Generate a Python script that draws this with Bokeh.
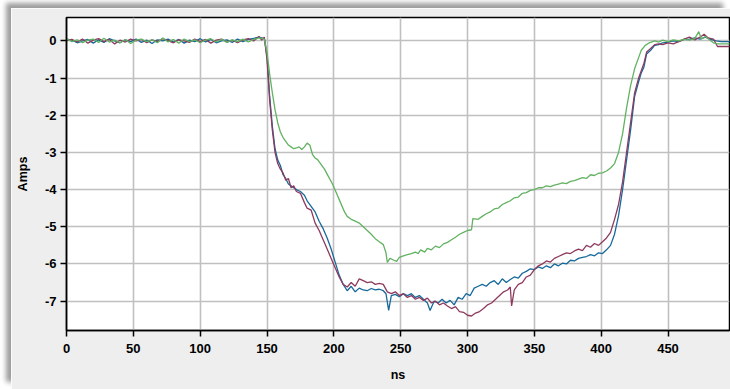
from bokeh.plotting import figure
from bokeh.models import Range1d, FixedTicker, CustomJSTickFormatter
from bokeh.embed import file_html
from bokeh.resources import INLINE

x_ticks = [0, 50, 100, 150, 200, 250, 300, 350, 400, 450]
y_ticks = [0, -1, -2, -3, -4, -5, -6, -7]

blue_t = [0, 4, 8, 12, 16, 20, 24, 28, 32, 36, 40, 44, 48, 52, 56, 60, 64, 68, 72, 76, 80, 84, 88, 92, 96, 100,
          104, 108, 112, 116, 120, 124, 128, 132, 136, 140, 144, 148,
          150, 152, 154, 156, 158, 160, 162, 164, 166, 168, 170, 172, 175, 178, 180, 183, 186, 189, 192, 195, 198,
          201, 204, 207, 210, 213, 216, 219, 222, 225, 228, 231, 234, 237, 239, 241, 243, 246, 249, 252, 255, 258,
          261, 264, 267, 270, 272, 275, 278, 281, 284, 287, 290, 293, 296, 299, 302, 305, 308, 311, 314, 317, 320,
          323, 326, 329, 332, 335, 338, 341, 344, 347, 350, 353, 356, 359, 362, 365, 368, 371, 374, 377, 380, 383,
          386, 389, 392, 395, 398, 401, 404, 407, 410, 413, 416, 419, 422, 425, 428, 430, 432, 434, 437, 440, 443,
          446, 450, 454, 458, 462, 466, 470, 474, 478, 482, 486, 490, 497]
blue_a = [0.05, 0.02, -0.05, 0.0, 0.04, -0.06, 0.03, -0.04, 0.06, 0.0, -0.05, 0.03, -0.02, 0.05, -0.04, 0.02, -0.07,
          0.03, 0.0, 0.05, -0.03, 0.04, -0.06, 0.02, -0.02, 0.06, -0.03, 0.04, -0.05, 0.0, 0.03, -0.04, 0.05, -0.02,
          0.04, 0.07, 0.1, 0.06,
          -0.4, -1.5, -2.3, -2.9, -3.2, -3.35, -3.6, -3.7, -3.85, -3.9, -3.95, -4.0, -4.05, -4.15, -4.3, -4.45, -4.6,
          -4.85, -5.05, -5.3, -5.6, -5.95, -6.3, -6.55, -6.72, -6.6, -6.75, -6.65, -6.7, -6.72, -6.66, -6.7, -6.68,
          -6.72, -6.8, -7.25, -6.85, -6.82, -6.88, -6.8, -6.85, -6.8, -6.9, -6.85, -6.95, -7.05, -7.25, -7.0, -7.05,
          -6.95, -7.05, -6.98, -7.1, -6.9, -6.95, -6.8, -6.85, -6.65, -6.6, -6.55, -6.6, -6.5, -6.45, -6.55, -6.4,
          -6.5, -6.42, -6.35, -6.38, -6.25, -6.2, -6.13, -6.15, -6.08, -6.12, -6.05, -6.1, -6.0, -6.05, -5.98, -6.0,
          -5.9, -5.92, -5.85, -5.82, -5.8, -5.75, -5.78, -5.7, -5.72, -5.62, -5.5, -5.2, -4.7, -4.0, -3.2, -2.4,
          -1.5, -1.1, -0.86, -0.7, -0.35, -0.25, -0.12, -0.1, -0.05, -0.03, 0.0, -0.02, 0.04, 0.05, 0.08, 0.05, 0.1,
          0.04, 0.0, -0.02, -0.02]

maroon_t = [0, 4, 8, 12, 16, 20, 24, 28, 32, 36, 40, 44, 48, 52, 56, 60, 64, 68, 72, 76, 80, 84, 88, 92, 96, 100,
            104, 108, 112, 116, 120, 124, 128, 132, 136, 140, 144, 146, 148,
            150, 152, 154, 156, 158, 160, 162, 164, 166, 168, 170, 172, 175, 178, 180, 183, 186, 189, 192, 195, 198,
            201, 204, 207, 210, 213, 216, 219, 222, 225, 228, 231, 234, 237, 240, 243, 246, 249, 252, 255, 258, 261,
            264, 267, 270, 273, 276, 279, 282, 285, 288, 291, 294, 297, 300, 303, 306, 309, 312, 315, 318, 321, 324,
            327, 330, 332, 333, 335, 338, 341, 344, 347, 350, 353, 356, 359, 362, 365, 368, 371, 374, 377, 380, 383,
            386, 389, 392, 395, 398, 401, 404, 407, 410, 413, 416, 419, 422, 425, 428, 430, 432, 434, 437, 440, 443,
            446, 450, 454, 458, 462, 466, 470, 474, 477, 480, 484, 487, 497]
maroon_a = [0.0, 0.04, -0.03, 0.05, -0.06, 0.02, 0.06, -0.02, 0.04, -0.08, 0.02, -0.03, 0.05, 0.0, 0.04, -0.05, 0.03,
            -0.02, 0.06, 0.01, -0.05, 0.03, 0.0, -0.04, 0.05, -0.02, 0.04, -0.06, 0.02, 0.05, -0.03, 0.02, -0.05,
            0.03, 0.06, 0.0, 0.12, 0.02, 0.1,
            -0.5, -1.6, -2.4, -3.0, -3.3, -3.45, -3.55, -3.75, -3.7, -3.95, -3.9, -4.05, -4.1, -4.35, -4.5, -4.55,
            -4.9, -5.1, -5.35, -5.6, -5.85, -6.1, -6.35, -6.55, -6.62, -6.5, -6.6, -6.4, -6.45, -6.5, -6.48, -6.55,
            -6.52, -6.55, -6.75, -6.8, -6.75, -6.85, -6.8, -6.9, -6.85, -6.95, -6.9, -6.98, -6.92, -7.05, -7.0, -7.1,
            -7.05, -7.13, -7.2, -7.15, -7.28, -7.3, -7.38, -7.4, -7.32, -7.28, -7.2, -7.1, -7.05, -6.95, -6.85,
            -6.75, -6.7, -6.62, -7.13, -6.7, -6.55, -6.5, -6.35, -6.3, -6.15, -6.05, -6.0, -5.92, -5.95, -5.85, -5.8,
            -5.75, -5.7, -5.72, -5.65, -5.6, -5.64, -5.5, -5.55, -5.45, -5.5, -5.4, -5.3, -5.15, -4.8, -4.4, -3.8,
            -3.0, -2.2, -1.4, -1.0, -0.8, -0.6, -0.3, -0.2, -0.1, -0.08, -0.1, -0.05, -0.08, -0.02, 0.05, 0.1, 0.03,
            0.1, 0.18, 0.08, 0.05, -0.15, -0.15]

green_t = [0, 4, 8, 12, 16, 20, 24, 28, 32, 36, 40, 44, 48, 52, 56, 60, 64, 68, 72, 76, 80, 84, 88, 92, 96, 100,
           104, 108, 112, 116, 120, 124, 128, 132, 136, 140, 144, 148,
           150, 152, 154, 156, 158, 160, 162, 164, 166, 168, 170, 172, 174, 176, 178, 180, 182, 184, 186, 188, 190,
           193, 196, 199, 202, 205, 208, 210, 213, 216, 219, 222, 225, 228, 231, 234, 237, 239, 240, 242, 245, 247,
           249, 252, 255, 258, 261, 263, 265, 268, 270, 273, 276, 279, 282, 285, 288, 291, 294, 297, 300, 303, 304,
           308, 311, 314, 317, 320, 323, 326, 329, 332, 335, 338, 341, 344, 347, 350, 353, 356, 359, 362, 365, 368,
           371, 374, 377, 380, 383, 386, 389, 392, 395, 398, 401, 404, 407, 410, 413, 416, 419, 422, 425, 428, 430,
           433, 436, 440, 443, 446, 450, 454, 458, 462, 466, 470, 473, 475, 478, 481, 484, 487, 497]
green_a = [0.06, -0.02, 0.03, -0.05, 0.02, 0.05, -0.04, 0.07, -0.03, 0.02, -0.05, 0.04, -0.07, 0.02, 0.05, -0.02,
           0.03, -0.05, 0.08, -0.03, 0.04, -0.06, 0.05, -0.02, 0.03, -0.05, 0.02, 0.06, -0.03, 0.04, -0.04, 0.03,
           -0.02, 0.05, -0.03, 0.04, 0.08, 0.05,
           -0.3, -0.9, -1.4, -1.85, -2.2, -2.45, -2.6, -2.7, -2.8, -2.85, -2.9, -2.88, -2.85, -2.92, -2.85, -2.75,
           -2.8, -3.05, -3.15, -3.2, -3.3, -3.45, -3.65, -3.85, -4.1, -4.35, -4.6, -4.72, -4.8, -4.85, -4.9, -5.0,
           -5.1, -5.2, -5.32, -5.4, -5.48, -5.7, -5.96, -5.85, -5.9, -5.93, -5.82, -5.78, -5.75, -5.72, -5.68, -5.72,
           -5.62, -5.68, -5.58, -5.62, -5.52, -5.56, -5.46, -5.42, -5.35, -5.28, -5.2, -5.15, -5.1, -5.08, -4.78,
           -4.8, -4.72, -4.65, -4.6, -4.52, -4.5, -4.4, -4.35, -4.3, -4.22, -4.2, -4.1, -4.08, -4.02, -4.0, -3.95,
           -3.95, -3.9, -3.92, -3.88, -3.85, -3.82, -3.84, -3.78, -3.76, -3.72, -3.68, -3.7, -3.6, -3.62, -3.56,
           -3.55, -3.5, -3.42, -3.3, -3.0, -2.5, -1.8, -1.2, -0.75, -0.45, -0.25, -0.12, -0.05, 0.0, -0.03, 0.02,
           -0.02, 0.03, 0.0, 0.04, 0.02, 0.06, 0.25, 0.05, 0.12, 0.03, -0.05, -0.08, -0.08]

FONT = "Liberation Sans"

p = figure(width=719, height=381, output_backend="svg", toolbar_location=None,
           x_range=Range1d(0, 496), y_range=Range1d(-7.79, 0.63),
           min_border_left=55, min_border_right=1, min_border_top=9, min_border_bottom=59)
p.margin = (8, 0, 0, 11)
p.styles = {"box-shadow": "-6px -6px 5px -1px #9c9c9c"}

p.background_fill_color = "white"
p.border_fill_color = "#eeeeee"
p.outline_line_color = "black"
p.outline_line_width = 1.5

for ax in (p.xaxis[0], p.yaxis[0]):
    ax.axis_line_color = "black"
    ax.axis_line_width = 1.5
    ax.major_tick_line_color = "black"
    ax.major_tick_line_width = 1.5
    ax.major_tick_out = 6
    ax.major_tick_in = 0
    ax.minor_tick_line_color = None
    ax.major_label_text_font = FONT
    ax.major_label_text_font_style = "bold"
    ax.major_label_text_font_size = "13px"
    ax.major_label_text_color = "black"
    ax.axis_label_text_font = FONT
    ax.axis_label_text_font_style = "bold"
    ax.axis_label_text_font_size = "12.5px"
    ax.axis_label_text_color = "black"
    ax.formatter = CustomJSTickFormatter(code="return String(Math.round(tick));")

p.xaxis.ticker = FixedTicker(ticks=x_ticks)
p.yaxis.ticker = FixedTicker(ticks=y_ticks)
p.xaxis.axis_label = "ns"
p.yaxis.axis_label = "Amps"
p.xaxis.major_label_standoff = 7
p.yaxis.major_label_standoff = 4
p.xaxis.axis_label_standoff = 12
p.yaxis.axis_label_standoff = 12

p.xgrid.grid_line_color = "#c0c0c0"
p.ygrid.grid_line_color = "#c0c0c0"
p.xgrid.grid_line_width = 1.6
p.ygrid.grid_line_width = 1.6

p.line(blue_t, blue_a, line_color="#16699a", line_width=1.3)
p.line(maroon_t, maroon_a, line_color="#8e3a5e", line_width=1.3)
p.line(green_t, green_a, line_color="#62b262", line_width=1.3)

open("out.html", "w").write(file_html(p, INLINE))
